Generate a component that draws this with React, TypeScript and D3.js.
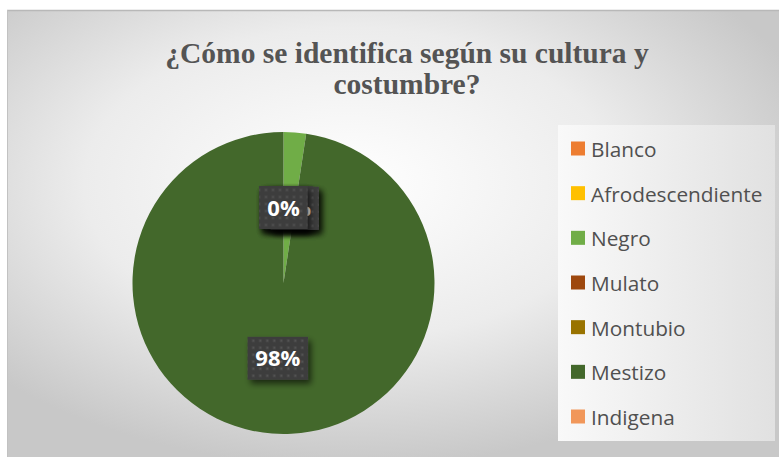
import React from "react";
import * as d3 from "d3";

const categories = ["Blanco", "Afrodescendiente", "Negro", "Mulato", "Montubio", "Mestizo", "Indigena"];
const values = [0, 0, 6, 0, 0, 244, 0];
const colors = ["#ED7D31", "#FFC000", "#70AD47", "#9E480E", "#997300", "#43682B", "#F1975A"];
const titleLines = ["¿Cómo se identifica según su cultura y", "costumbre?"];

const W = 779;
const H = 457;
const cx = 283.5;
const cy = 283;
const R = 151;

function labelWidth(t: string) {
  return t.length * 12.5 + 23;
}

export default function App() {
  const total = d3.sum(values);
  const pie = d3.pie<number>().sort(null).value((d) => d).startAngle(0).endAngle(2 * Math.PI);
  const arcs = pie(values);
  const arc = d3.arc<d3.PieArcDatum<number>>().innerRadius(0).outerRadius(R);
  const pct = (v: number) => `${Math.round((v / total) * 100)}%`;

  const legendY = d3.scalePoint<string>().domain(categories).range([150, 418]);

  return (
    <div style={{ position: "absolute", left: 0, top: 0 }}>
      <svg width={W} height={H} style={{ display: "block" }}>
        <defs>
          <radialGradient id="bg" cx="0.44" cy="0.38" r="0.62">
            <stop offset="0" stopColor="#ffffff" />
            <stop offset="0.55" stopColor="#ececec" />
            <stop offset="1" stopColor="#c8c8c8" />
          </radialGradient>
          <linearGradient id="leg" x1="0" y1="0" x2="1" y2="0">
            <stop offset="0" stopColor="#f9f9f9" />
            <stop offset="1" stopColor="#e1e1e1" />
          </linearGradient>
          <pattern id="dots" width="7" height="7" patternUnits="userSpaceOnUse">
            <rect width="7" height="7" fill="#3e3e3e" />
            <rect x="2.5" y="2.5" width="2" height="2" fill="#575757" />
          </pattern>
          <filter id="shadow" x="-30%" y="-30%" width="170%" height="170%">
            <feGaussianBlur in="SourceAlpha" stdDeviation="3" />
            <feOffset dx="3" dy="4" result="b" />
            <feComponentTransfer>
              <feFuncA type="linear" slope="0.6" />
            </feComponentTransfer>
            <feMerge>
              <feMergeNode />
              <feMergeNode in="SourceGraphic" />
            </feMerge>
          </filter>
        </defs>
        <rect x={0} y={0} width={W} height={H} fill="#ffffff" />
        <rect x={7} y={10} width={W} height={H} fill="url(#bg)" />
        <line x1={7} y1={10.5} x2={W} y2={10.5} stroke="#b8b8b8" strokeWidth={1.5} />
        <line x1={7.5} y1={10} x2={7.5} y2={H} stroke="#c2c2c2" strokeWidth={1} />

        {titleLines.map((t, i) => (
          <text
            key={i}
            x={407}
            y={63 + i * 31}
            textAnchor="middle"
            fontFamily="'Liberation Serif', 'Times New Roman', serif"
            fontWeight="bold"
            fontSize={29.5}
            fill="#545454"
          >
            {t}
          </text>
        ))}

        <g transform={`translate(${cx},${cy})`}>
          {arcs.map((a, i) => (
            <path key={i} d={arc(a) || ""} fill={colors[i]} />
          ))}
          {arcs.map((a, i) => {
            const [x, y] = arc.centroid(a);
            const t = pct(a.data);
            const w = labelWidth(t);
            const h = 43;
            return (
              <g key={"l" + i} transform={`translate(${x},${y})`}>
                <rect x={-w / 2} y={-h / 2} width={w} height={h} fill="url(#dots)" filter="url(#shadow)" />
                <text
                  x={0}
                  y={8}
                  textAnchor="middle"
                  fontFamily="'Open Sans', sans-serif"
                  fontWeight="bold"
                  fontSize={22}
                  fill="#ffffff"
                >
                  {t}
                </text>
              </g>
            );
          })}
        </g>

        <rect x={558} y={125} width={217} height={316} fill="url(#leg)" />
        {categories.map((c, i) => {
          const y = legendY(c) as number;
          return (
            <g key={c}>
              <rect x={571} y={y - 8.5} width={14} height={14} fill={colors[i]} />
              <text x={591} y={y + 7} fontFamily="'Open Sans', sans-serif" fontSize={20.8} fill="#505050">
                {c}
              </text>
            </g>
          );
        })}
      </svg>
    </div>
  );
}
